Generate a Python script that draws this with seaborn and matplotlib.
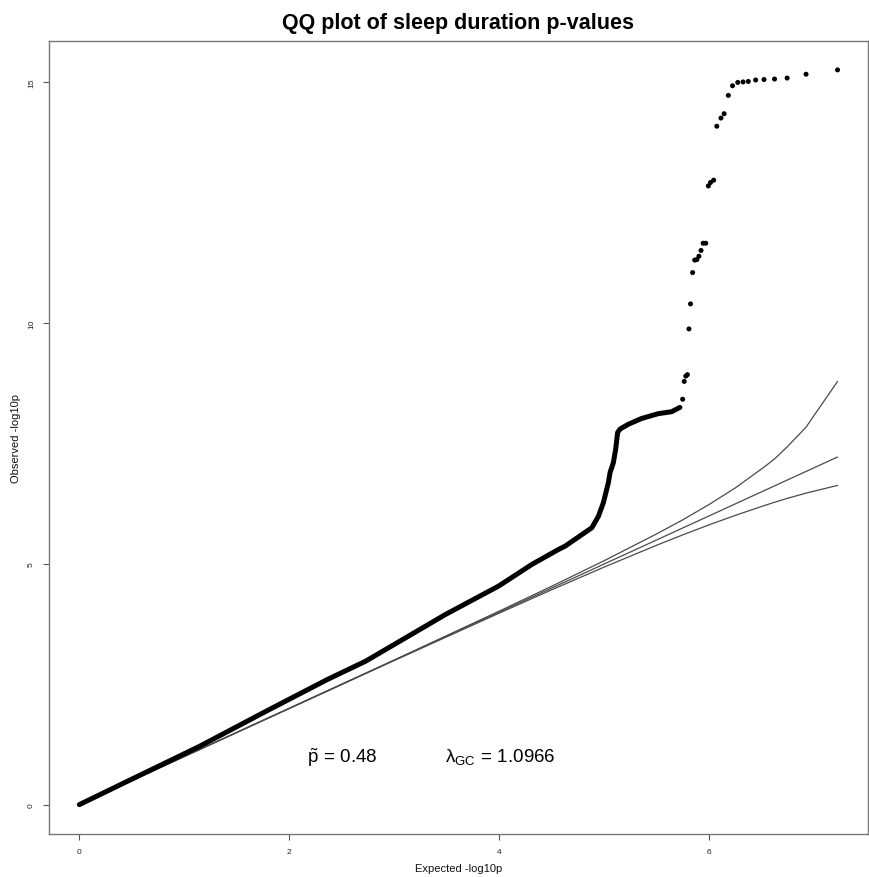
import numpy as np
import pandas as pd
import matplotlib
matplotlib.use("Agg")
import matplotlib.pyplot as plt
import seaborn as sns

# ---- data ----
# dense part of the observed QQ curve (expected, observed)
dense_exp = [0.0, 0.5, 1.144, 1.809, 2.363, 2.727, 3.487, 3.993, 4.31, 4.563, 4.627,
             4.72, 4.88, 4.943, 4.99, 5.038, 5.054, 5.085, 5.107, 5.126, 5.149,
             5.228, 5.354, 5.513, 5.639, 5.719]
dense_obs = [0.0, 0.53, 1.21, 1.975, 2.60, 2.98, 3.95, 4.54, 4.99, 5.30, 5.37,
             5.51, 5.75, 5.99, 6.27, 6.69, 6.90, 7.10, 7.38, 7.73, 7.80,
             7.90, 8.02, 8.12, 8.16, 8.25]

# sparse tail points (individual SNPs)
tail_exp = [7.22, 6.92, 6.74, 6.62, 6.52, 6.44, 6.37, 6.32, 6.27, 6.22, 6.18, 6.14,
            6.11, 6.07, 6.04, 6.01, 5.99, 5.965, 5.94, 5.92, 5.90, 5.88, 5.86, 5.84,
            5.82, 5.805, 5.79, 5.775, 5.76, 5.745]
tail_obs = [15.26, 15.17, 15.09, 15.07, 15.06, 15.05, 15.02, 15.01, 15.00, 14.93, 14.73, 14.35,
            14.26, 14.09, 12.97, 12.92, 12.85, 11.66, 11.66, 11.51, 11.39, 11.32, 11.31, 11.05,
            10.40, 9.88, 8.93, 8.90, 8.79, 8.42]

# 95% confidence band and null diagonal
band_exp = [0.0, 3.0, 4.0, 4.5, 5.0, 5.5, 5.75, 6.0, 6.25, 6.52, 6.62, 6.74, 6.92, 7.22]
band_upper = [0.0, 3.005, 4.021, 4.538, 5.069, 5.626, 5.92, 6.238, 6.583, 7.01, 7.18, 7.43, 7.84, 8.79]
band_lower = [0.0, 2.995, 3.979, 4.464, 4.936, 5.39, 5.606, 5.814, 6.01, 6.21, 6.28, 6.36, 6.47, 6.63]
diag_exp = [0.0, 7.22]
diag_obs = [0.0, 7.22]

median_p = "0.48"
lambda_gc = "1.0966"

title = "QQ plot of sleep duration p-values"
xlabel = "Expected -log10p"
ylabel = "Observed -log10p"
xticks = [0, 2, 4, 6]
yticks = [0, 5, 10, 15]

# ---- styling ----
sns.set_theme(style="white")
plt.rcParams['font.family'] = ['Liberation Sans', 'DejaVu Sans']
plt.rcParams['mathtext.fontset'] = 'custom'
plt.rcParams['mathtext.rm'] = 'Liberation Sans'
plt.rcParams['mathtext.it'] = 'Liberation Sans'
plt.rcParams['mathtext.bf'] = 'Liberation Sans:bold'

fig = plt.figure(figsize=(8.7, 8.78), dpi=100)
ax = fig.add_axes([49/870, 43/878, 819/870, 793/878])

line_col = "#4a4a4a"
df_band = pd.DataFrame({"x": band_exp, "up": band_upper, "lo": band_lower})
sns.lineplot(data=df_band, x="x", y="up", ax=ax, color=line_col, lw=0.9, estimator=None, sort=False)
sns.lineplot(data=df_band, x="x", y="lo", ax=ax, color=line_col, lw=0.9, estimator=None, sort=False)
sns.lineplot(x=diag_exp, y=diag_obs, ax=ax, color=line_col, lw=0.9, estimator=None, sort=False)

df_dense = pd.DataFrame({"x": dense_exp, "y": dense_obs})
sns.lineplot(data=df_dense, x="x", y="y", ax=ax, color="black", lw=3.6,
             estimator=None, sort=False, solid_capstyle="round", solid_joinstyle="round")

df_tail = pd.DataFrame({"x": tail_exp, "y": tail_obs})
sns.scatterplot(data=df_tail, x="x", y="y", ax=ax, color="black", s=13,
                edgecolor="none", linewidth=0)

ax.set_xlim(-0.289, 7.51)
ax.set_ylim(-0.61, 15.86)
ax.set_xticks(xticks)
ax.set_yticks(yticks)
ax.set_xticklabels([str(t) for t in xticks])
ax.set_yticklabels([str(t) for t in yticks], rotation=90, va="center")
ax.tick_params(axis="both", direction="out", length=4, width=0.8, color="#555555",
               labelsize=6, pad=6, labelcolor="#222222")
ax.tick_params(axis="both", which="both", bottom=True, left=True)
for sp in ax.spines.values():
    sp.set_color("#777777")
    sp.set_linewidth(1.0)

ax.set_xlabel(xlabel, fontsize=8, labelpad=6, color="#111111")
ax.set_ylabel(ylabel, fontsize=8, labelpad=5, color="#111111")
ax.set_title(title, fontsize=15.5, fontweight="bold", pad=9, color="black")

ax.text(2.17, 1.0, r"$\tilde{\mathrm{p}}\,=\,$" + median_p, fontsize=13.5,
        va="center", ha="left", color="black")
ax.text(3.48, 1.0, r"$\lambda_{\mathrm{GC}}\,=\,$" + lambda_gc, fontsize=13.5,
        va="center", ha="left", color="black")

fig.savefig("out.png", dpi=100)
